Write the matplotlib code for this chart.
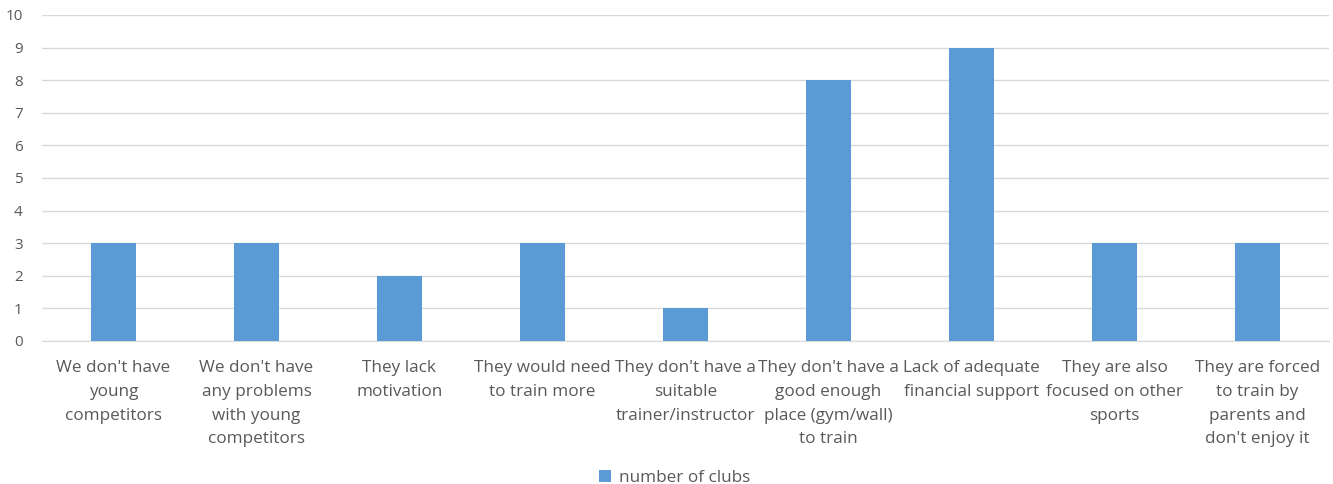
import matplotlib.pyplot as plt
from matplotlib.patches import Patch

categories = ["We don't have\nyoung\ncompetitors",
              "We don't have\nany problems\nwith young\ncompetitors",
              "They lack\nmotivation",
              "They would need\nto train more",
              "They don't have a\nsuitable\ntrainer/instructor",
              "They don't have a\ngood enough\nplace (gym/wall)\nto train",
              "Lack of adequate\nfinancial support",
              "They are also\nfocused on other\nsports",
              "They are forced\nto train by\nparents and\ndon't enjoy it"]
clubs = [3, 3, 2, 3, 1, 8, 9, 3, 3]
series_name = "number of clubs"

plt.rcParams['font.family'] = ['Open Sans', 'DejaVu Sans']
text_color = "#595959"
bar_color = "#5B9BD5"

fig = plt.figure(figsize=(13.33, 4.84), dpi=100)
ax = fig.add_axes([0.0315, 0.2955, 0.9655, 0.6736])

x = range(len(categories))
ax.bar(x, clubs, width=0.315, color=bar_color, zorder=3)

ax.set_xlim(-0.5, len(categories) - 0.5)
ax.set_ylim(0, 10)
ax.set_yticks(range(0, 11))
ax.set_xticks(list(x))
ax.set_xticklabels(categories, fontsize=12.3, color=text_color, linespacing=1.63)
ax.tick_params(axis='y', labelsize=11, colors=text_color, length=0, pad=14)
ax.tick_params(axis='x', length=0, pad=14)
ax.grid(axis='y', color="#D9D9D9", linewidth=1, zorder=0)
for side in ["top", "right", "left"]:
    ax.spines[side].set_visible(False)
ax.spines["bottom"].set_color("#D9D9D9")

handles = [Patch(facecolor=bar_color, label=series_name)]
fig.legend(handles=handles, loc="center", bbox_to_anchor=(0.506, 0.012),
           frameon=False, fontsize=12.3, labelcolor=text_color,
           handlelength=0.7, handleheight=0.7, handletextpad=0.5)

fig.savefig("out.png", dpi=100)
